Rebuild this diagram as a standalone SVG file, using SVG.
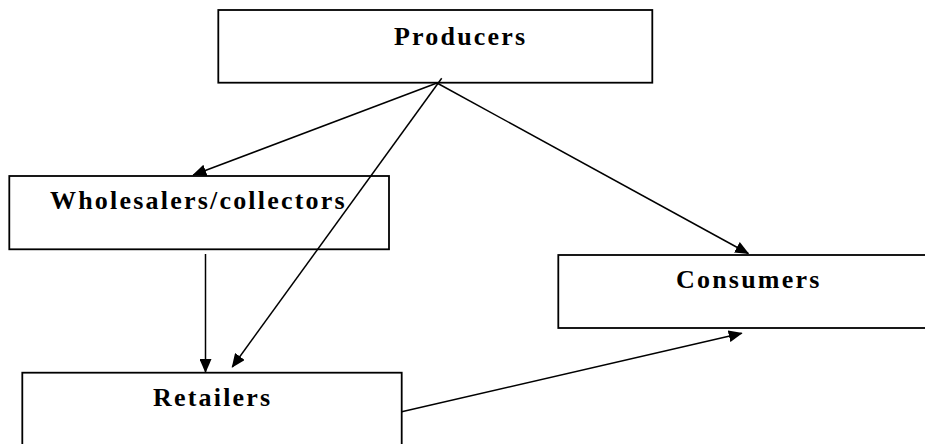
<svg xmlns="http://www.w3.org/2000/svg" width="925" height="444" viewBox="0 0 925 444">
<style>
.box{fill:#fff;stroke:#000;stroke-width:1.8}
.lbl{font-family:"Liberation Serif","Times New Roman",serif;font-weight:bold;font-size:26px;letter-spacing:2.2px;fill:#000}
.con{stroke:#000;stroke-width:1.5;fill:none}
</style>
<defs>
<marker id="ah" markerWidth="14" markerHeight="12" refX="13" refY="6" orient="auto" markerUnits="userSpaceOnUse"><path d="M0,0 L14,6 L0,12 z" fill="#000"/></marker>
</defs>
<rect width="925" height="444" fill="#fff"/>
<g id="producers"><rect class="box" x="218.3" y="10" width="434" height="72.7"/><text class="lbl" x="394" y="45">Producers</text></g>
<g id="wholesalers"><rect class="box" x="9.3" y="176" width="379.7" height="73.3"/><text class="lbl" x="50" y="209">Wholesalers/collectors</text></g>
<g id="consumers"><rect class="box" x="558.3" y="255" width="380" height="73"/><text class="lbl" x="676" y="288">Consumers</text></g>
<g id="retailers"><rect class="box" x="22.3" y="372.7" width="379.4" height="90"/><text class="lbl" x="153" y="406">Retailers</text></g>
<g id="connectors">
<line class="con" x1="437" y1="83" x2="193.3" y2="175" marker-end="url(#ah)"/>
<line class="con" x1="441.7" y1="78.3" x2="232.3" y2="367" marker-end="url(#ah)"/>
<line class="con" x1="437" y1="83" x2="748.3" y2="253.5" marker-end="url(#ah)"/>
<line class="con" x1="205.5" y1="254" x2="205.5" y2="372" marker-end="url(#ah)"/>
<line class="con" x1="401.7" y1="411.7" x2="741.7" y2="333.3" marker-end="url(#ah)"/>
</g>
</svg>
